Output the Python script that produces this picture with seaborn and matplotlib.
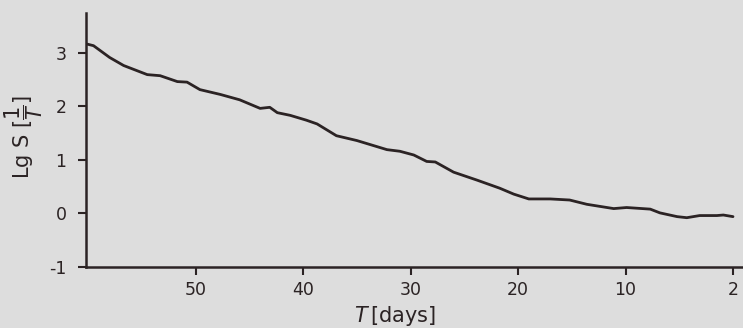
import matplotlib
matplotlib.use("Agg")
import matplotlib.pyplot as plt
import seaborn as sns
import pandas as pd

# Data
T_days = [60.1, 59.5, 58.0, 56.7, 54.5, 53.3, 51.7, 50.8, 49.6, 47.7, 45.9, 44.0,
          43.1, 42.4, 41.2, 39.7, 38.7, 36.9, 35.0, 32.2, 31.0, 29.7, 28.5, 27.7,
          26.0, 23.8, 21.7, 20.4, 19.0, 17.0, 15.2, 13.6, 11.1, 9.9, 7.7, 6.8,
          5.2, 4.3, 3.1, 1.5, 0.9, 0.0]
lg_S = [3.16, 3.13, 2.91, 2.76, 2.59, 2.57, 2.46, 2.45, 2.31, 2.22, 2.12, 1.96,
        1.98, 1.88, 1.83, 1.74, 1.67, 1.45, 1.36, 1.19, 1.16, 1.09, 0.97, 0.96,
        0.77, 0.62, 0.47, 0.36, 0.27, 0.27, 0.25, 0.17, 0.09, 0.11, 0.08, 0.01,
        -0.06, -0.08, -0.04, -0.04, -0.03, -0.06]

x_tick_pos = [50, 40, 30, 20, 10, 0]
x_tick_labels = ["50", "40", "30", "20", "10", "2"]
y_ticks = [-1, 0, 1, 2, 3]

df = pd.DataFrame({"T": T_days, "lgS": lg_S})

sns.set_style("ticks")
plt.rcParams["font.family"] = ["DejaVu Sans"]
bg = "#dddddd"
ink = "#2b2324"

fig = plt.figure(figsize=(7.43, 3.28), dpi=100, facecolor=bg)
ax = fig.add_axes([86 / 743, 1 - 267 / 328, (743 - 86) / 743, (267 - 13) / 328])
ax.set_facecolor(bg)

sns.lineplot(data=df, x="T", y="lgS", ax=ax, color=ink, linewidth=2.0)

ax.set_xlim(60.2, -0.93)
ax.set_ylim(-1, 3.74)
ax.set_xticks(x_tick_pos)
ax.set_xticklabels(x_tick_labels)
ax.set_yticks(y_ticks)
ax.set_yticklabels([str(v) for v in y_ticks])

for s in ["top", "right"]:
    ax.spines[s].set_visible(False)
for s in ["left", "bottom"]:
    ax.spines[s].set_color(ink)
    ax.spines[s].set_linewidth(1.8)

ax.tick_params(axis="both", colors=ink, labelcolor=ink, labelsize=12.5,
               length=6, width=1.5, direction="out")
ax.tick_params(axis="y", pad=8)
ax.tick_params(axis="x", pad=4)

ax.set_xlabel(r"$T\,$[days]", fontsize=15, color=ink, labelpad=2)
ax.set_ylabel(r"Lg S [$\dfrac{1}{T}$]", fontsize=15, color=ink, labelpad=6)
ax.yaxis.set_label_coords(-0.062, 0.51)
ax.xaxis.set_label_coords(0.47, -0.145)

fig.savefig("out.png", dpi=100, facecolor=bg)
